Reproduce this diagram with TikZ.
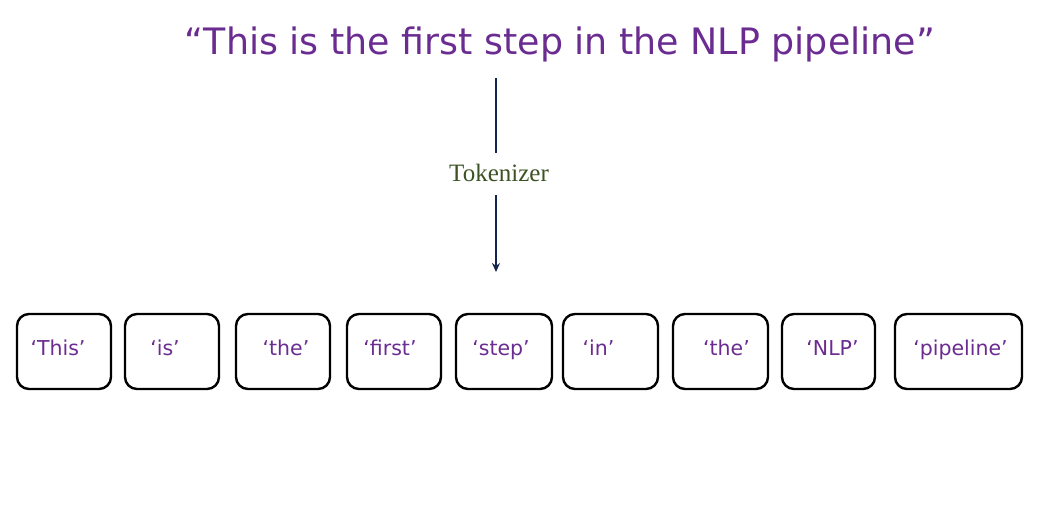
\documentclass[tikz,border=0pt]{standalone}
\usepackage{fontspec}
\newfontfamily\timesf{Liberation Serif}
\newfontfamily\handf{DejaVu Sans}
\usetikzlibrary{arrows.meta}
\definecolor{tokpurple}{HTML}{6B2C91}
\definecolor{tokgreen}{HTML}{3B5323}
\definecolor{arrowblue}{HTML}{12254F}
\begin{document}
\begin{tikzpicture}[x=1pt,y=-1pt,
  tokbox/.style={draw=black, line width=2.4pt, rounded corners=12pt,
    minimum height=75pt, inner sep=0pt},
  toklabel/.style={text=tokpurple, font=\handf\fontsize{20.5}{24}\selectfont, inner sep=0pt, anchor=base},
  conn/.style={draw=arrowblue, line width=2.8pt},
]
\useasboundingbox (0,0) rectangle (1041,520);
\node[text=tokpurple, font=\handf\fontsize{32}{38}\selectfont, inner sep=0pt] (title) at (560,44) {\resizebox{750pt}{!}{“This is the first step in the NLP pipeline”}};
\node[text=tokgreen, font=\timesf\fontsize{25}{28}\selectfont, inner sep=0pt] (tokenizer) at (499,173) {Tokenizer};
\coordinate (top) at (496,78);
\coordinate (tip) at (496,272);
\draw[conn] (top) -- (496,153);
\draw[conn, -{Stealth[length=9pt,width=8pt]}] (496,195) -- (tip);
\node[tokbox, minimum width=94pt] (t1) at (64,351.5) {};
\node[tokbox, minimum width=94pt] (t2) at (172,351.5) {};
\node[tokbox, minimum width=94pt] (t3) at (283,351.5) {};
\node[tokbox, minimum width=94pt] (t4) at (394,351.5) {};
\node[tokbox, minimum width=96pt] (t5) at (504,351.5) {};
\node[tokbox, minimum width=95pt] (t6) at (610.5,351.5) {};
\node[tokbox, minimum width=95pt] (t7) at (720.5,351.5) {};
\node[tokbox, minimum width=93pt] (t8) at (828.5,351.5) {};
\node[tokbox, minimum width=127pt] (t9) at (958.5,351.5) {};
\node[toklabel] (l1) at ([xshift=-6pt,yshift=-3.5pt]t1.center) {‘This’};
\node[toklabel] (l2) at ([xshift=-7pt,yshift=-3.5pt]t2.center) {‘is’};
\node[toklabel] (l3) at ([xshift=3pt,yshift=-3.5pt]t3.center) {‘the’};
\node[toklabel] (l4) at ([xshift=-4pt,yshift=-3.5pt]t4.center) {‘first’};
\node[toklabel] (l5) at ([xshift=-3pt,yshift=-3.5pt]t5.center) {‘step’};
\node[toklabel] (l6) at ([xshift=-12pt,yshift=-3.5pt]t6.center) {‘in’};
\node[toklabel] (l7) at ([xshift=6pt,yshift=-3.5pt]t7.center) {‘the’};
\node[toklabel] (l8) at ([xshift=4pt,yshift=-3.5pt]t8.center) {‘NLP’};
\node[toklabel] (l9) at ([xshift=2pt,yshift=-3.5pt]t9.center) {‘pipeline’};
\end{tikzpicture}
\end{document}
